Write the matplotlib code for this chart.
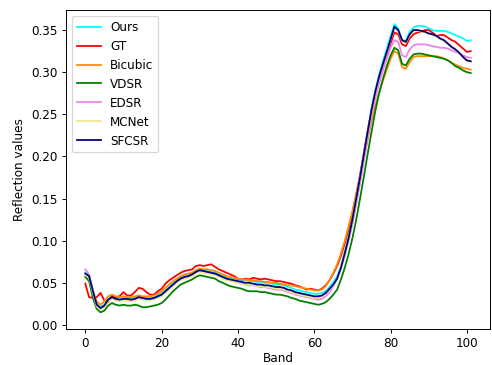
import matplotlib
matplotlib.use("Agg")
import matplotlib.pyplot as plt
import numpy as np

bands = list(range(102))

gt = [0.049, 0.033, 0.032, 0.033, 0.038, 0.029, 0.027, 0.035, 0.033, 0.034,
      0.039, 0.035, 0.035, 0.039, 0.044, 0.043, 0.039, 0.036, 0.036, 0.040,
      0.043, 0.049, 0.053, 0.056, 0.059, 0.062, 0.064, 0.065, 0.066, 0.070,
      0.071, 0.070, 0.071, 0.072, 0.069, 0.066, 0.064, 0.062, 0.060, 0.058,
      0.055, 0.054, 0.055, 0.054, 0.056, 0.055, 0.054, 0.055, 0.054, 0.053,
      0.052, 0.052, 0.051, 0.050, 0.049, 0.047, 0.046, 0.044, 0.042, 0.043,
      0.042, 0.041, 0.043, 0.047, 0.053, 0.061, 0.070, 0.082, 0.097, 0.114,
      0.133, 0.155, 0.178, 0.204, 0.230, 0.254, 0.275, 0.292, 0.306, 0.320,
      0.334, 0.347, 0.345, 0.333, 0.331, 0.340, 0.345, 0.347, 0.348, 0.350,
      0.350, 0.347, 0.343, 0.344, 0.344, 0.341, 0.338, 0.336, 0.332, 0.328,
      0.324, 0.325]

sfcsr = [0.061, 0.058, 0.040, 0.024, 0.020, 0.023, 0.030, 0.033, 0.031, 0.030,
         0.031, 0.031, 0.030, 0.031, 0.033, 0.032, 0.031, 0.031, 0.032, 0.034,
         0.036, 0.040, 0.044, 0.048, 0.052, 0.055, 0.057, 0.058, 0.060, 0.063,
         0.065, 0.064, 0.063, 0.062, 0.061, 0.059, 0.057, 0.055, 0.054, 0.053,
         0.052, 0.051, 0.050, 0.050, 0.049, 0.048, 0.048, 0.047, 0.047, 0.046,
         0.045, 0.045, 0.044, 0.042, 0.041, 0.039, 0.038, 0.037, 0.036, 0.035,
         0.034, 0.034, 0.035, 0.038, 0.043, 0.048, 0.055, 0.068, 0.085, 0.103,
         0.125, 0.150, 0.175, 0.202, 0.229, 0.255, 0.277, 0.295, 0.310, 0.324,
         0.339, 0.354, 0.350, 0.338, 0.336, 0.345, 0.350, 0.350, 0.349, 0.348,
         0.346, 0.345, 0.343, 0.340, 0.338, 0.334, 0.330, 0.327, 0.323, 0.318,
         0.314, 0.313]

ours = [0.062, 0.059, 0.041, 0.025, 0.021, 0.024, 0.031, 0.034, 0.032, 0.031,
        0.032, 0.032, 0.031, 0.032, 0.034, 0.033, 0.032, 0.032, 0.033, 0.035,
        0.037, 0.041, 0.045, 0.049, 0.053, 0.056, 0.058, 0.059, 0.061, 0.064,
        0.066, 0.065, 0.064, 0.063, 0.062, 0.060, 0.058, 0.057, 0.056, 0.055,
        0.054, 0.053, 0.053, 0.052, 0.052, 0.051, 0.051, 0.050, 0.050, 0.049,
        0.048, 0.048, 0.047, 0.045, 0.044, 0.042, 0.041, 0.040, 0.039, 0.038,
        0.037, 0.037, 0.038, 0.040, 0.045, 0.051, 0.058, 0.070, 0.087, 0.105,
        0.127, 0.152, 0.177, 0.204, 0.231, 0.257, 0.279, 0.297, 0.313, 0.328,
        0.343, 0.357, 0.352, 0.338, 0.337, 0.348, 0.353, 0.355, 0.355, 0.354,
        0.352, 0.350, 0.349, 0.349, 0.349, 0.348, 0.346, 0.344, 0.342, 0.340,
        0.337, 0.338]

bicubic = [0.058, 0.055, 0.040, 0.028, 0.024, 0.028, 0.034, 0.036, 0.034, 0.033,
           0.034, 0.033, 0.033, 0.034, 0.035, 0.034, 0.034, 0.034, 0.035, 0.037,
           0.040, 0.044, 0.048, 0.052, 0.055, 0.058, 0.060, 0.061, 0.062, 0.065,
           0.067, 0.066, 0.066, 0.065, 0.064, 0.062, 0.060, 0.058, 0.057, 0.056,
           0.055, 0.054, 0.054, 0.053, 0.053, 0.052, 0.052, 0.051, 0.051, 0.050,
           0.050, 0.049, 0.048, 0.047, 0.047, 0.046, 0.045, 0.044, 0.043, 0.042,
           0.041, 0.041, 0.042, 0.046, 0.053, 0.062, 0.072, 0.085, 0.100, 0.117,
           0.135, 0.155, 0.176, 0.198, 0.220, 0.242, 0.260, 0.276, 0.290, 0.303,
           0.316, 0.325, 0.322, 0.306, 0.304, 0.312, 0.318, 0.319, 0.319, 0.319,
           0.319, 0.319, 0.319, 0.318, 0.316, 0.314, 0.311, 0.309, 0.307, 0.305,
           0.304, 0.303]

vdsr = [0.057, 0.052, 0.032, 0.019, 0.015, 0.017, 0.023, 0.026, 0.024, 0.023,
        0.024, 0.023, 0.023, 0.024, 0.023, 0.021, 0.021, 0.022, 0.023, 0.024,
        0.026, 0.030, 0.035, 0.040, 0.044, 0.048, 0.050, 0.052, 0.054, 0.057,
        0.059, 0.058, 0.057, 0.056, 0.055, 0.052, 0.050, 0.048, 0.046, 0.045,
        0.044, 0.043, 0.041, 0.040, 0.040, 0.040, 0.039, 0.039, 0.038, 0.037,
        0.036, 0.036, 0.035, 0.034, 0.032, 0.031, 0.029, 0.028, 0.027, 0.026,
        0.025, 0.024, 0.025, 0.027, 0.031, 0.036, 0.042, 0.054, 0.068, 0.084,
        0.103, 0.125, 0.150, 0.176, 0.203, 0.229, 0.254, 0.275, 0.292, 0.307,
        0.320, 0.329, 0.326, 0.310, 0.308, 0.316, 0.321, 0.322, 0.322, 0.321,
        0.320, 0.319, 0.318, 0.317, 0.316, 0.314, 0.311, 0.307, 0.305, 0.302,
        0.300, 0.299]

edsr = [0.066, 0.060, 0.040, 0.023, 0.019, 0.022, 0.029, 0.032, 0.030, 0.029,
        0.030, 0.030, 0.029, 0.030, 0.032, 0.031, 0.030, 0.030, 0.031, 0.033,
        0.035, 0.039, 0.043, 0.047, 0.051, 0.054, 0.056, 0.057, 0.059, 0.062,
        0.064, 0.063, 0.062, 0.061, 0.060, 0.058, 0.056, 0.054, 0.053, 0.052,
        0.050, 0.049, 0.048, 0.047, 0.047, 0.046, 0.045, 0.045, 0.044, 0.043,
        0.042, 0.042, 0.041, 0.039, 0.038, 0.036, 0.035, 0.034, 0.033, 0.032,
        0.031, 0.030, 0.031, 0.034, 0.039, 0.046, 0.055, 0.067, 0.082, 0.100,
        0.120, 0.143, 0.168, 0.195, 0.222, 0.248, 0.269, 0.287, 0.302, 0.316,
        0.329, 0.338, 0.336, 0.320, 0.318, 0.327, 0.332, 0.333, 0.333, 0.333,
        0.332, 0.331, 0.330, 0.329, 0.329, 0.328, 0.326, 0.324, 0.322, 0.320,
        0.318, 0.317]

mcnet = [0.059, 0.056, 0.038, 0.022, 0.018, 0.021, 0.028, 0.031, 0.029, 0.028,
         0.029, 0.029, 0.028, 0.029, 0.031, 0.030, 0.029, 0.029, 0.030, 0.032,
         0.034, 0.038, 0.042, 0.046, 0.050, 0.053, 0.055, 0.056, 0.058, 0.061,
         0.063, 0.062, 0.061, 0.060, 0.059, 0.057, 0.055, 0.053, 0.052, 0.051,
         0.050, 0.049, 0.048, 0.048, 0.047, 0.046, 0.046, 0.045, 0.045, 0.044,
         0.043, 0.043, 0.042, 0.040, 0.039, 0.037, 0.036, 0.035, 0.034, 0.033,
         0.032, 0.032, 0.034, 0.037, 0.042, 0.047, 0.054, 0.067, 0.084, 0.102,
         0.124, 0.149, 0.174, 0.201, 0.228, 0.254, 0.276, 0.294, 0.309, 0.323,
         0.338, 0.353, 0.349, 0.337, 0.335, 0.344, 0.349, 0.349, 0.348, 0.347,
         0.345, 0.344, 0.342, 0.339, 0.337, 0.333, 0.329, 0.326, 0.322, 0.317,
         0.313, 0.312]

series = [
    ("Ours", ours, "cyan"),
    ("GT", gt, "red"),
    ("Bicubic", bicubic, "darkorange"),
    ("VDSR", vdsr, "green"),
    ("EDSR", edsr, "violet"),
    ("MCNet", mcnet, "khaki"),
    ("SFCSR", sfcsr, "navy"),
]

DPI = 86
fig = plt.figure(figsize=(492 / DPI, 365 / DPI), dpi=DPI)
ax = fig.add_subplot(111)
for name, vals, col in series:
    ax.plot(bands, vals, color=col, label=name, linewidth=1.5)

ax.set_xlabel("Band", labelpad=2)
ax.set_ylabel("Reflection values")
ax.set_xticks([0, 20, 40, 60, 80, 100])
ax.set_yticks([0.0, 0.05, 0.10, 0.15, 0.20, 0.25, 0.30, 0.35])
ax.set_ylim(-0.0048, 0.3738)
ax.tick_params(axis="x", pad=3)
ax.legend(loc="upper left")
fig.subplots_adjust(left=66 / 492, right=490 / 492, bottom=1 - 329 / 365, top=1 - 10 / 365)
fig.savefig("out.png", dpi=DPI)
